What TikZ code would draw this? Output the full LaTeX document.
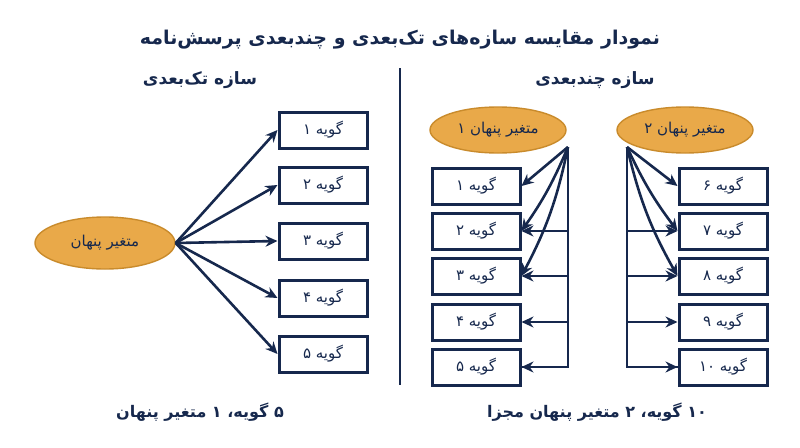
\documentclass[tikz,border=0pt]{standalone}
\usepackage{fontspec}
\setmainfont{DejaVu Sans}[Script=Arabic]
\usetikzlibrary{positioning,shapes.geometric,arrows.meta}
\TeXXeTstate=1
\newcommand{\fa}[1]{\beginR #1\endR}
\definecolor{navy}{HTML}{16284D}
\definecolor{orng}{HTML}{E9A949}
\definecolor{orngdark}{HTML}{C98B2C}
\tikzset{>={Stealth[length=12pt,width=11pt]},
  item/.style={draw=navy, line width=3pt, minimum width=88pt, minimum height=36pt, font=\fontsize{15}{17}\selectfont, text=navy},
  latent/.style={ellipse, draw=orngdark, line width=1.4pt, fill=orng, minimum width=136pt, minimum height=48pt, font=\fontsize{15}{17}\selectfont, text=navy},
  link/.style={->, navy, line width=2.6pt},
  head/.style={font=\bfseries\fontsize{17}{19}\selectfont, text=navy}}
\begin{document}
\begin{tikzpicture}[x=1pt,y=-1pt]
    \useasboundingbox (0,0) rectangle (800,447);
    \node[head, font=\bfseries\fontsize{19}{21}\selectfont] (title) at (400,40) {\fa{نمودار مقایسه سازه‌های تک‌بعدی و چندبعدی پرسش‌نامه}};
    \draw[navy, line width=2.6pt] (400,68) -- (400,385);
    % left: one latent
    \node[head] (hleft) at (200,80) {\fa{سازه تک‌بعدی}};
    \node[latent, minimum width=140pt, minimum height=52pt] (lat) at (105,243) {\fa{متغیر پنهان}};
    \foreach \i/\y/\d in {1/130/۱,2/185/۲,3/241/۳,4/298/۴,5/354/۵} {
        \node[item] (l\i) at (323,\y) {\fa{گویه \d}};
        \draw[link] (lat.east) -- (l\i.west);
    }
    \node[head, font=\bfseries\fontsize{16}{18}\selectfont] (cleft) at (200,412) {\fa{۵ گویه، ۱ متغیر پنهان}};
    % right: two latents
    \node[head] (hright) at (595,80) {\fa{سازه چندبعدی}};
    \node[latent, minimum height=46pt] (lat1) at (498,130) {\fa{متغیر پنهان ۱}};
    \node[latent, minimum height=46pt] (lat2) at (685,130) {\fa{متغیر پنهان ۲}};
    \coordinate (p1) at (568,147);
    \coordinate (p2) at (627,147);
    \foreach \i/\y/\d in {1/186/۱,2/231/۲,3/276/۳,4/322/۴,5/367/۵} {
        \node[item] (a\i) at (476,\y) {\fa{گویه \d}};
    }
    \foreach \i/\y/\d in {6/186/۶,7/231/۷,8/276/۸,9/322/۹,10/367/۱۰} {
        \node[item] (b\i) at (723,\y) {\fa{گویه \d}};
    }
    \draw[navy, line width=2.6pt] (p1) -- (p1 |- a5.east) -- (a5.east);
    \draw[navy, line width=2.6pt] (p2) -- (p2 |- b10.west) -- (b10.west);
    \foreach \i in {2,3,4,5} \draw[link] (p1 |- a\i.east) -- (a\i.east);
    \foreach \i in {7,8,9,10} \draw[link] (p2 |- b\i.west) -- (b\i.west);
    \draw[link] (p1) -- (a1.east);
    \draw[link] (p1) to[bend left=6] (a2.east);
    \draw[link] (p1) to[bend left=8] (a3.east);
    \draw[link] (p2) -- (b6.west);
    \draw[link] (p2) to[bend right=6] (b7.west);
    \draw[link] (p2) to[bend right=8] (b8.west);
    \node[head, font=\bfseries\fontsize{16}{18}\selectfont] (cright) at (597,412) {\fa{۱۰ گویه، ۲ متغیر پنهان مجزا}};
\end{tikzpicture}
\end{document}
